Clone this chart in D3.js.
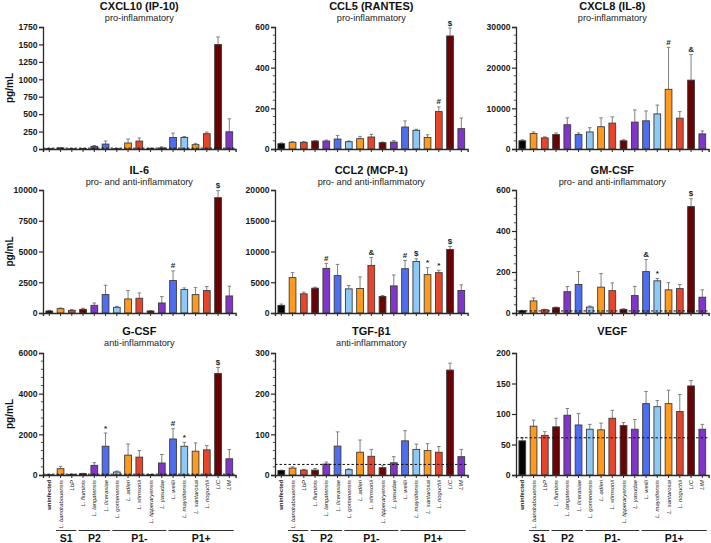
<!DOCTYPE html>
<html><head><meta charset="utf-8">
<script src="https://cdn.jsdelivr.net/npm/d3@7"></script>
<style>body{margin:0;background:#fff}svg{display:block;font-family:"Liberation Sans",Arial,sans-serif}</style>
</head><body><svg id="c" width="711" height="543"></svg>
<script>
const categories = ["uninfected","L. bandrabouensis","LbP","L. fluminis","L. langatensis","L. licerasiae","L. gomenensis","L. adleri","L. stimsonii","L. tipperaryensis","L. yasudae","L. weilii","L. mayottensis","L. santarosai","L. noguchii","LIC","LIM"];
const groupNames = ["S1","P2","P1-","P1+"];
const groupFirst = [1,3,6,11];
const groupLast  = [2,5,10,16];

const cxcl10Mean = [5,15,3,5,38,71,5,86,114,8,15,166,166,62,219,1498,247];
const cxcl10Err  = [3,6,2,3,12,43,3,57,43,3,15,62,14,19,24,109,186];
const cxcl10Sig  = ["","","","","","","","","","","","","","","","",""];
const cxcl10Ticks = [0,250,500,750,1000,1250,1500,1750];
const cxcl10Dash = 12;

const ccl5Mean = [26,33,33,39,39,49,36,51,59,31,34,108,92,57,184,556,100];
const ccl5Err  = [4,3,3,2,5,17,3,11,13,3,7,30,5,13,23,39,52];
const ccl5Sig  = ["","","","","","","","","","","","","","","#","$",""];
const ccl5Ticks = [0,200,400,600];

const cxcl8Mean = [2016,3790,2742,3548,5968,3548,4190,5480,6370,2016,6610,6930,8630,14680,7580,16935,3710];
const cxcl8Err  = [242,400,242,402,1692,402,1050,2180,1530,242,2990,2420,2170,10320,1610,6290,725];
const cxcl8Sig  = ["","","","","","","","","","","","","","#","","&",""];
const cxcl8Ticks = [0,10000,20000,30000];

const il6Mean = [163,353,217,300,625,1495,462,1141,1196,163,815,2636,1902,1495,1820,9375,1386];
const il6Err  = [54,55,55,80,190,760,81,679,434,27,517,788,136,570,327,571,788];
const il6Sig  = ["","","","","","","","","","","","#","","","","$",""];
const il6Ticks = [0,2500,5000,7500,10000];

const ccl2Mean = [1237,5753,3118,4032,7258,6075,3925,3978,7742,2688,4409,7204,8387,6237,6560,10323,3656];
const ccl2Err  = [215,807,269,162,807,1828,537,1882,1290,162,1774,1344,430,1129,375,483,914];
const ccl2Sig  = ["","","","","#","","","","&","","","#","$","*","*","$",""];
const ccl2Ticks = [0,5000,10000,15000,20000];

const gmcsfMean = [11,59,16,26,104,139,29,126,109,18,85,202,157,113,119,519,77];
const gmcsfErr  = [2,14,2,3,25,63,5,66,38,2,45,59,11,35,20,39,36];
const gmcsfSig  = ["","","","","","","","","","","","&","*","","","$",""];
const gmcsfTicks = [0,200,400,600];
const gmcsfDash = 10;

const gcsfMean = [10,311,30,65,475,1415,148,976,878,20,590,1772,1415,1171,1236,4992,797];
const gcsfErr  = [5,115,10,15,131,650,49,552,325,8,418,504,195,406,211,293,455];
const gcsfSig  = ["","","","","","*","","","","","","#","*","","","$",""];
const gcsfTicks = [0,2000,4000,6000];
const gcsfDash = 40;

const tgfMean = [11,17,12,12,27,71,13,56,46,18,30,84,63,60,56,258,45];
const tgfErr  = [1,3,2,4,5,35,2,30,17,6,15,25,13,17,14,17,18];
const tgfSig  = ["","","","","","","","","","","","","","","","",""];
const tgfTicks = [0,100,200,300];
const tgfDash = 26;

const vegfMean = [56,80,65,79,98,82,75,74,93,81,75,117,112,117,104,146,75];
const vegfErr  = [5,10,6,14,11,19,8,11,13,5,16,20,10,22,28,9,8];
const vegfSig  = ["","","","","","","","","","","","","","","","",""];
const vegfTicks = [0,50,100,150,200];
const vegfDash = 61;

const palette = ["#050505","#FF9A1F","#E5462B","#6A0303","#8136C9","#4F6DF0","#8EC9F5","#FF9A1F","#E5462B","#6A0303","#8136C9","#4F6DF0","#8EC9F5","#FF9A1F","#E5462B","#6A0303","#8136C9"];

const panels = [
  {title:"CXCL10 (IP-10)", sub:"pro-inflammatory", mean:cxcl10Mean, err:cxcl10Err, sig:cxcl10Sig, ticks:cxcl10Ticks, dash:cxcl10Dash, minor:0},
  {title:"CCL5 (RANTES)", sub:"pro-inflammatory", mean:ccl5Mean, err:ccl5Err, sig:ccl5Sig, ticks:ccl5Ticks, dash:null, minor:4},
  {title:"CXCL8 (IL-8)", sub:"pro-inflammatory", mean:cxcl8Mean, err:cxcl8Err, sig:cxcl8Sig, ticks:cxcl8Ticks, dash:null, minor:4},
  {title:"IL-6", sub:"pro- and anti-inflammatory", mean:il6Mean, err:il6Err, sig:il6Sig, ticks:il6Ticks, dash:null, minor:0},
  {title:"CCL2 (MCP-1)", sub:"pro- and anti-inflammatory", mean:ccl2Mean, err:ccl2Err, sig:ccl2Sig, ticks:ccl2Ticks, dash:null, minor:0},
  {title:"GM-CSF", sub:"pro- and anti-inflammatory", mean:gmcsfMean, err:gmcsfErr, sig:gmcsfSig, ticks:gmcsfTicks, dash:gmcsfDash, minor:4},
  {title:"G-CSF", sub:"anti-inflammatory", mean:gcsfMean, err:gcsfErr, sig:gcsfSig, ticks:gcsfTicks, dash:gcsfDash, minor:4},
  {title:"TGF-β1", sub:"anti-inflammatory", mean:tgfMean, err:tgfErr, sig:tgfSig, ticks:tgfTicks, dash:tgfDash, minor:4},
  {title:"VEGF", sub:"", mean:vegfMean, err:vegfErr, sig:vegfSig, ticks:vegfTicks, dash:vegfDash, minor:0}
];

const svg = d3.select("#c");
const colX = [43, 275, 516];
const W = 192.6;
const rowTop = [27, 190, 353];
const rowBot = [149, 313, 475];
const titleY = [10, 174, 335];
const subY = [21, 185, 346];
const AX = "#2a2a2a";

panels.forEach((p, i) => {
  const c = i % 3, r = Math.floor(i / 3);
  const x0 = colX[c];
  const x = d3.scaleBand().domain(categories).range([x0, x0 + W]).paddingInner(0.4).paddingOuter(0.26);
  const yMax = p.ticks[p.ticks.length - 1];
  const y = d3.scaleLinear().domain([0, yMax]).range([rowBot[r], rowTop[r]]);
  const g = svg.append("g");

  g.append("text").attr("x", x0 + W / 2).attr("y", titleY[r]).attr("text-anchor", "middle")
    .attr("font-weight", "bold").attr("font-size", 11).attr("fill", "#111").text(p.title);
  if (p.sub) g.append("text").attr("x", x0 + W / 2).attr("y", subY[r]).attr("text-anchor", "middle")
    .attr("font-size", 9.2).attr("fill", "#222").text(p.sub);

  if (p.minor) {
    const step = p.ticks[1] - p.ticks[0];
    const mv = [];
    for (let k = 0; k < p.ticks.length - 1; k++)
      for (let m = 1; m <= p.minor; m++) mv.push(p.ticks[k] + step * m / (p.minor + 1));
    g.selectAll(".mn").data(mv).enter().append("line")
      .attr("x1", x0 - 2.2).attr("x2", x0).attr("y1", d => y(d)).attr("y2", d => y(d))
      .attr("stroke", AX).attr("stroke-width", 0.8);
  }

  const ya = g.append("g").attr("transform", `translate(${x0},0)`)
    .call(d3.axisLeft(y).tickValues(p.ticks).tickSize(4).tickPadding(1.5).tickFormat(d3.format("d")));
  ya.select(".domain").attr("stroke", AX).attr("stroke-width", 1.3);
  ya.selectAll(".tick line").attr("stroke", AX).attr("stroke-width", 1.2);
  ya.selectAll(".tick text").attr("font-family", "Liberation Sans, Arial, sans-serif")
    .attr("font-weight", "bold").attr("font-size", 8.6).attr("fill", "#1a1a1a");

  const eg = g.append("g");
  categories.forEach((cat, j) => {
    const cx = x(cat) + x.bandwidth() / 2;
    const top = y(p.mean[j] + p.err[j]);
    eg.append("line").attr("x1", cx).attr("x2", cx).attr("y1", y(p.mean[j])).attr("y2", top)
      .attr("stroke", "#808080").attr("stroke-width", 1);
    eg.append("line").attr("x1", cx - 1.8).attr("x2", cx + 1.8).attr("y1", top).attr("y2", top)
      .attr("stroke", "#808080").attr("stroke-width", 1);
    if (p.sig[j]) g.append("text").attr("x", cx).attr("y", top - 2.5).attr("text-anchor", "middle")
      .attr("font-weight", "bold").attr("font-size", 8).attr("fill", "#222").text(p.sig[j]);
  });

  g.selectAll(".bar").data(categories).enter().append("rect")
    .attr("x", d => x(d)).attr("width", x.bandwidth())
    .attr("y", (d, j) => y(p.mean[j])).attr("height", (d, j) => rowBot[r] - y(p.mean[j]))
    .attr("fill", (d, j) => palette[j]).attr("stroke", "#3a3a3a").attr("stroke-width", 0.9);

  if (p.dash != null) {
    g.append("line").attr("x1", x0).attr("x2", x0 + W).attr("y1", y(p.dash)).attr("y2", y(p.dash))
      .attr("stroke", "#111").attr("stroke-width", 1).attr("stroke-dasharray", "2.5,2");
  }

  const xa = g.append("g").attr("transform", `translate(0,${rowBot[r]})`)
    .call(d3.axisBottom(x).tickSize(3).tickFormat(""));
  xa.select(".domain").attr("stroke", AX).attr("stroke-width", 1.4);
  xa.selectAll(".tick line").attr("stroke", AX).attr("stroke-width", 1);

  if (r === 2) {
    categories.forEach((cat, j) => {
      const cx = x(cat) + x.bandwidth() / 2;
      g.append("text").attr("transform", `translate(${cx + 2.1},${rowBot[r] + 5}) rotate(-90)`)
        .attr("text-anchor", "end").attr("font-size", 5.9)
        .attr("font-style", j === 0 ? "normal" : "italic")
        .attr("font-weight", j === 0 ? "bold" : "normal")
        .attr("fill", "#222").text(cat);
    });
    groupNames.forEach((gn, k) => {
      const a = x(categories[groupFirst[k]]) + x.bandwidth() / 2 - 4.5;
      const b = x(categories[groupLast[k]]) + x.bandwidth() / 2 + 4.5;
      g.append("line").attr("x1", a).attr("x2", b).attr("y1", 530.5).attr("y2", 530.5)
        .attr("stroke", "#333").attr("stroke-width", 1);
      g.append("text").attr("x", (a + b) / 2).attr("y", 541.5).attr("text-anchor", "middle")
        .attr("font-weight", "bold").attr("font-size", 10.5).attr("fill", "#111").text(gn);
    });
  }

  if (c === 0) {
    g.append("text").attr("transform", `translate(13,${(rowTop[r] + rowBot[r]) / 2}) rotate(-90)`)
      .attr("text-anchor", "middle").attr("font-weight", "bold").attr("font-size", 10).attr("fill", "#111").text("pg/mL");
  }
});
</script></body></html>
